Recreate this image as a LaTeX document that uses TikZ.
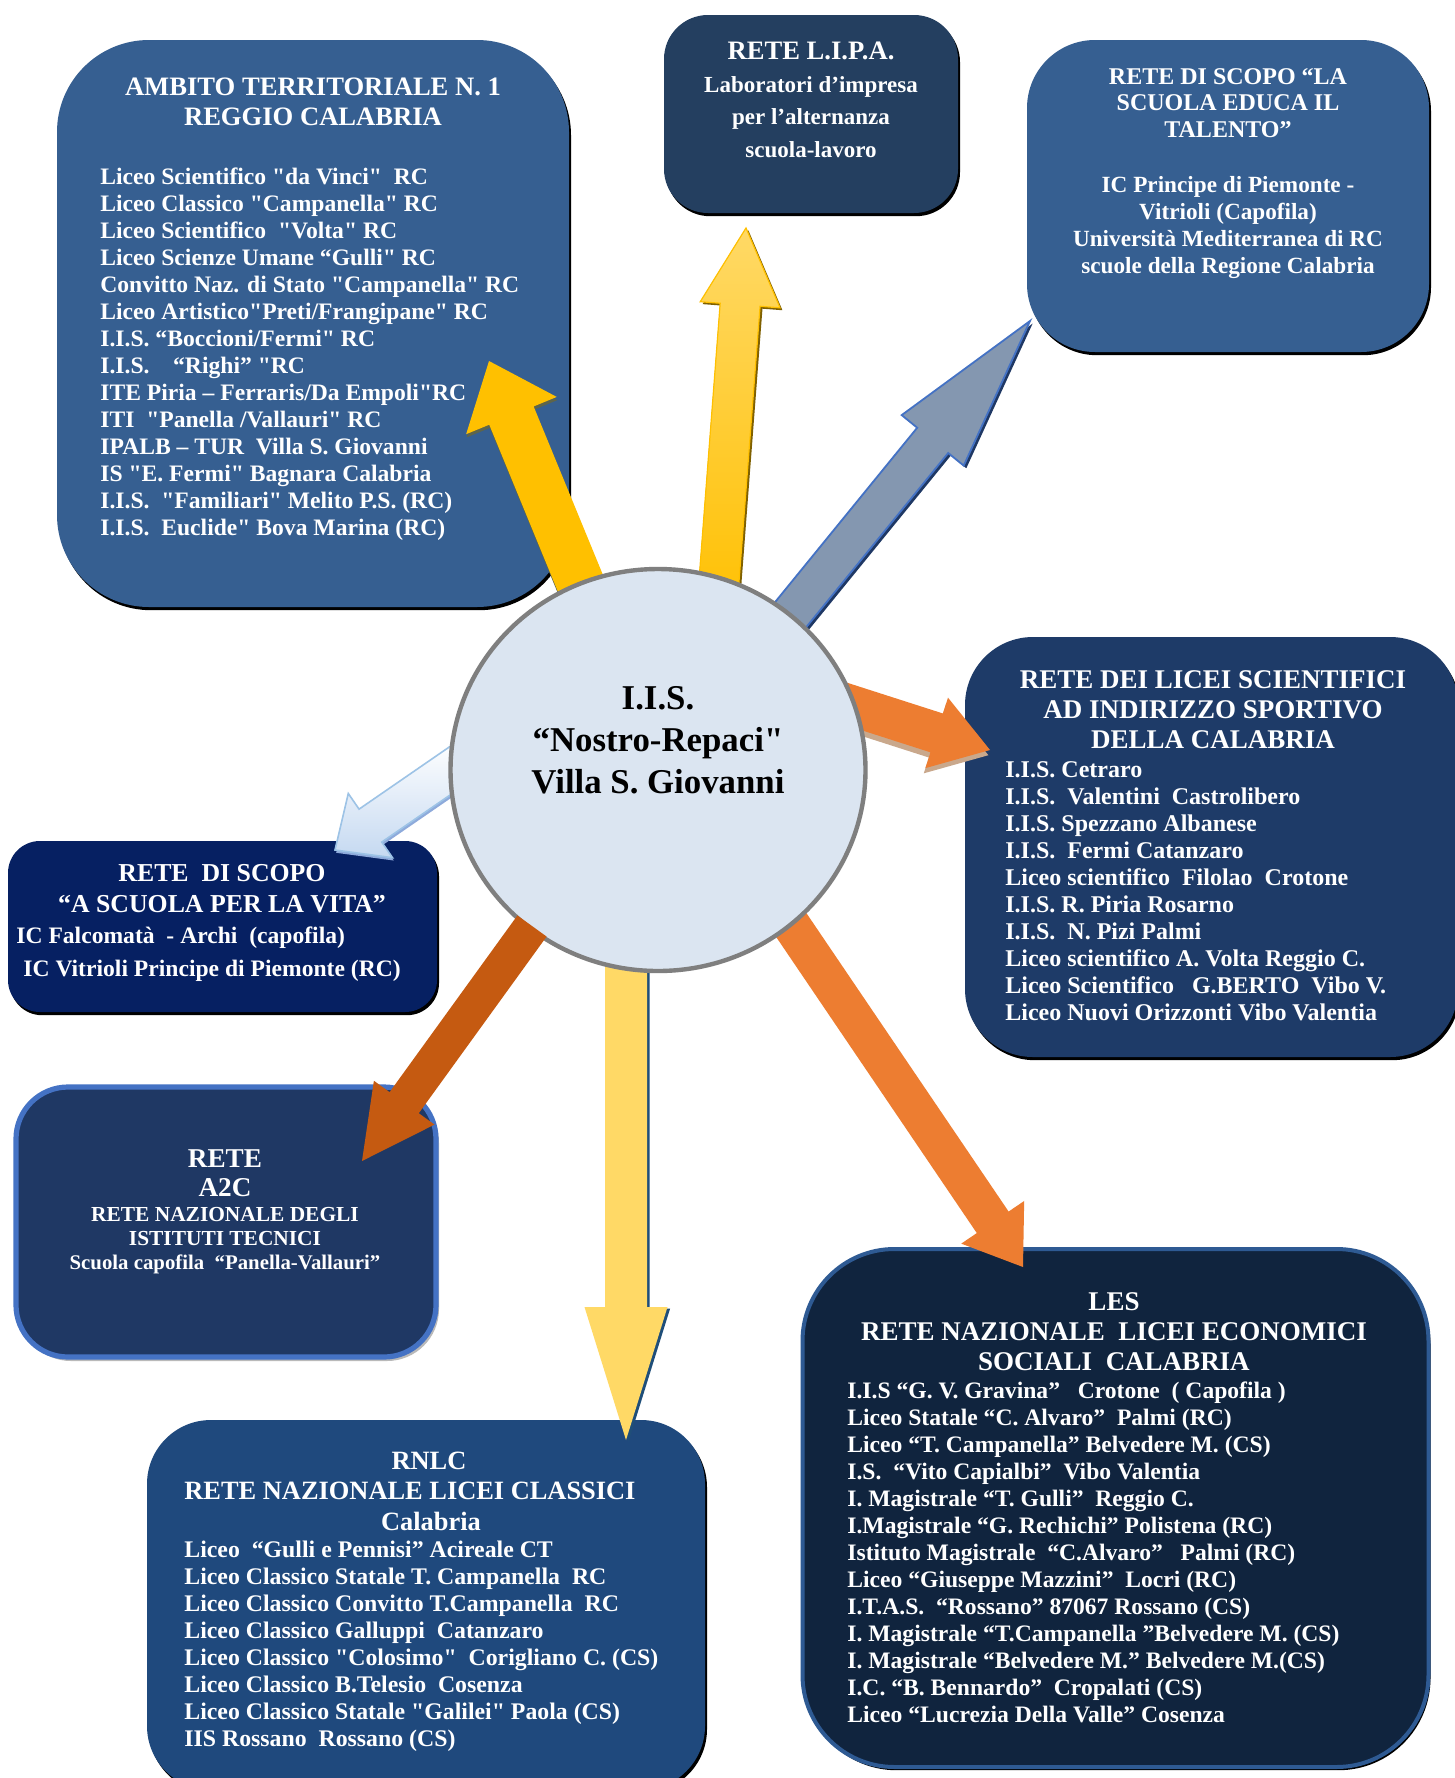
\documentclass[tikz,border=0pt]{standalone}
\usepackage{fontspec}
\setmainfont{Liberation Serif}[Ligatures=TeXOff]
\usetikzlibrary{calc,shapes.geometric,shadows}

\definecolor{cAmb}{HTML}{365F91}
\definecolor{cLipa}{HTML}{243F60}
\definecolor{cLic}{HTML}{1E3B68}
\definecolor{cVita}{HTML}{062062}
\definecolor{cAtc}{HTML}{1F3864}
\definecolor{cAtcB}{HTML}{4472C4}
\definecolor{cRnlc}{HTML}{1F497D}
\definecolor{cLes}{HTML}{10243E}
\definecolor{cLesB}{HTML}{2E5A93}
\definecolor{cHub}{HTML}{DBE5F1}
\definecolor{cHubB}{HTML}{7F7F7F}
\definecolor{cGold}{HTML}{FFC000}
\definecolor{cGoldL}{HTML}{FFD966}
\definecolor{cSlate}{HTML}{8497B0}
\definecolor{cSlateB}{HTML}{4472C4}
\definecolor{cNavyS}{HTML}{1F3864}
\definecolor{cOrange}{HTML}{ED7D31}
\definecolor{cTan}{HTML}{C9A88C}
\definecolor{cSky}{HTML}{C5D9F1}
\definecolor{cSkyB}{HTML}{9DC3E6}
\definecolor{cSkyS}{HTML}{8EAADB}
\definecolor{cBrown}{HTML}{C55A11}
\definecolor{cDeepB}{HTML}{1F4E79}
\definecolor{cOlive}{HTML}{5E654A}
\definecolor{cDkGold}{HTML}{7F6000}

% block arrow: tail, tip, shaft half width, head half width, head length, style
\newcommand\blockarrow[6]{%
  \coordinate (bahead) at ($(#2)!#5!(#1)$);
  \filldraw[#6] ($(#1)!#3!90:(#2)$) -- ($(bahead)!#3!90:(#2)$) -- ($(bahead)!#4!90:(#2)$) -- (#2) -- ($(bahead)!#4!-90:(#2)$) -- ($(bahead)!#3!-90:(#2)$) -- ($(#1)!#3!-90:(#2)$) -- cycle;
}

\begin{document}
\begin{tikzpicture}[x=0.5pt,y=-0.5pt,
  box/.style={rectangle, inner sep=0pt, draw=none,
    drop shadow={shadow xshift=1pt,shadow yshift=-1.6pt,opacity=1,fill=black}},
  ttl/.style={text=white, font=\bfseries\fontsize{13.3}{15}\selectfont, align=center, inner sep=0pt, anchor=north},
  lst/.style={text=white, font=\bfseries\fontsize{11.8}{13.5}\selectfont, align=left, inner sep=0pt, anchor=north west},
]
\useasboundingbox (0,0) rectangle (1455,1778);
\fill[white] (0,0) rectangle (1455,1778);

% ---------------- boxes ----------------
\node[box, fill=cAmb, rounded corners=46pt, minimum width=256pt, minimum height=283.5pt] (ambito) at (313,323.5) {};
\node[box, fill=cLipa, rounded corners=22pt, minimum width=147pt, minimum height=99pt] (lipa) at (811,114) {};
\node[box, fill=cAmb, rounded corners=34pt, minimum width=201pt, minimum height=156pt] (talento) at (1228,196) {};
\node[box, fill=cLic, rounded corners=34pt, minimum width=246.5pt, minimum height=210pt] (licei) at (1211.5,847) {};
\node[box, fill=cVita, rounded corners=16pt, minimum width=214.5pt, minimum height=85.5pt] (vita) at (222.5,926.5) {};
\node[rectangle, inner sep=0pt, fill=cAtc, draw=cAtcB, line width=2.6pt, rounded corners=26pt,
  minimum width=210pt, minimum height=135pt,
  drop shadow={shadow xshift=1.5pt,shadow yshift=-2pt,opacity=1,fill=gray!55}] (atc) at (226,1222) {};
\node[box, fill=cRnlc, rounded corners=32pt, minimum width=279pt, minimum height=185pt] (rnlc) at (426,1605) {};
\node[box, fill=cLes, draw=cLesB, line width=2pt, rounded corners=46pt, minimum width=313pt, minimum height=259pt] (les) at (1115.5,1508) {};

% ---------------- texts ----------------
\node[ttl] (ambitoT) at (313,77) {AMBITO TERRITORIALE N. 1\\REGGIO CALABRIA};
\node[lst] (ambitoL) at (100,167) {Liceo Scientifico "da Vinci"\ \ RC\\
Liceo Classico "Campanella" RC\\
Liceo Scientifico\ \ "Volta" RC\\
Liceo Scienze Umane “Gulli" RC\\
Convitto Naz. di Stato "Campanella" RC\\
Liceo Artistico"Preti/Frangipane" RC\\
I.I.S. “Boccioni/Fermi" RC\\
I.I.S.\ \ \ \ “Righi” "RC\\
ITE Piria – Ferraris/Da Empoli"RC\\
ITI\ \ "Panella /Vallauri" RC\\
IPALB – TUR\ \ Villa S. Giovanni\\
IS "E. Fermi" Bagnara Calabria\\
I.I.S.\ \ "Familiari" Melito P.S. (RC)\\
I.I.S.\ \ Euclide" Bova Marina (RC)};

\node[ttl] (lipaT) at (811,42) {RETE L.I.P.A.};
\node[ttl, font=\bfseries\fontsize{11.5}{16.25}\selectfont] (lipaB) at (811,76) {Laboratori d’impresa\\per l’alternanza\\scuola-lavoro};

\node[ttl, font=\bfseries\fontsize{12}{13.25}\selectfont] (talentoT) at (1228,68) {RETE DI SCOPO “LA\\SCUOLA EDUCA IL\\TALENTO”};
\node[ttl, font=\bfseries\fontsize{11.6}{13.5}\selectfont] (talentoB) at (1228,176) {IC Principe di Piemonte -\\Vitrioli (Capofila)\\Università Mediterranea di RC\\scuole della Regione Calabria};

\node[ttl, font=\bfseries\fontsize{13.5}{15}\selectfont] (liceiT) at (1213,670) {RETE DEI LICEI SCIENTIFICI\\AD INDIRIZZO SPORTIVO\\DELLA CALABRIA};
\node[lst, font=\bfseries\fontsize{12}{13.5}\selectfont] (liceiL) at (1005,761) {I.I.S. Cetraro\\
I.I.S.\ \ Valentini\ \ Castrolibero\\
I.I.S. Spezzano Albanese\\
I.I.S.\ \ Fermi Catanzaro\\
Liceo scientifico\ \ Filolao\ \ Crotone\\
I.I.S. R. Piria Rosarno\\
I.I.S.\ \ N. Pizi Palmi\\
Liceo scientifico A. Volta Reggio C.\\
Liceo Scientifico\ \ \ G.BERTO\ \ Vibo V.\\
Liceo Nuovi Orizzonti Vibo Valentia};

\node[ttl, font=\bfseries\fontsize{12.9}{15.5}\selectfont] (vitaT) at (222,864) {RETE\ \ DI SCOPO\\“A SCUOLA PER LA VITA”};
\node[lst, anchor=west] (vitaL1) at (16,938) {IC Falcomatà\ \ - Archi\ \ (capofila)};
\node[lst, anchor=west] (vitaL2) at (23,971) {IC Vitrioli Principe di Piemonte (RC)};

\node[ttl, font=\bfseries\fontsize{13.6}{14.5}\selectfont] (atcT) at (225,1149) {RETE\\A2C};
\node[ttl, font=\bfseries\fontsize{10.7}{12}\selectfont] (atcB) at (225,1207) {RETE NAZIONALE DEGLI\\ISTITUTI TECNICI\\{\fontsize{10.4}{12}\selectfont Scuola capofila\ \ “Panella-Vallauri”}};

\node[ttl, font=\bfseries\fontsize{13.2}{15}\selectfont] (rnlcT1) at (429,1452) {RNLC};
\node[ttl, font=\bfseries\fontsize{13.2}{15}\selectfont] (rnlcT2) at (410,1482) {RETE NAZIONALE LICEI CLASSICI};
\node[ttl, font=\bfseries\fontsize{13.2}{15}\selectfont] (rnlcT3) at (431,1512) {Calabria};
\node[lst, font=\bfseries\fontsize{11.9}{13.5}\selectfont] (rnlcL) at (184,1541) {Liceo\ \ “Gulli e Pennisi” Acireale CT\\
Liceo Classico Statale T. Campanella\ \ RC\\
Liceo Classico Convitto T.Campanella\ \ RC\\
Liceo Classico Galluppi\ \ Catanzaro\\
Liceo Classico "Colosimo"\ \ Corigliano C. (CS)\\
Liceo Classico B.Telesio\ \ Cosenza\\
Liceo Classico Statale "Galilei" Paola (CS)\\
IIS Rossano\ \ Rossano (CS)};

\node[ttl, font=\bfseries\fontsize{13.5}{15}\selectfont] (lesT) at (1114,1292) {LES\\RETE NAZIONALE\ \ LICEI ECONOMICI\\SOCIALI\ \ CALABRIA};
\node[lst] (lesL) at (847,1381) {I.I.S “G. V. Gravina”\ \ \ Crotone\ \ ( Capofila )\\
Liceo Statale “C. Alvaro”\ \ Palmi (RC)\\
Liceo “T. Campanella” Belvedere M. (CS)\\
I.S.\ \ “Vito Capialbi”\ \ Vibo Valentia\\
I. Magistrale “T. Gulli”\ \ Reggio C.\\
I.Magistrale “G. Rechichi” Polistena (RC)\\
Istituto Magistrale\ \ “C.Alvaro”\ \ \ Palmi (RC)\\
Liceo “Giuseppe Mazzini”\ \ Locri (RC)\\
I.T.A.S.\ \ “Rossano” 87067 Rossano (CS)\\
I. Magistrale “T.Campanella ”Belvedere M. (CS)\\
I. Magistrale “Belvedere M.” Belvedere M.(CS)\\
I.C. “B. Bennardo”\ \ Cropalati (CS)\\
Liceo “Lucrezia Della Valle” Cosenza};

% ---------------- arrow end points ----------------
\coordinate (a1s) at (598,626);  \coordinate (a1e) at (489,361);
\coordinate (a2s) at (716,620);  \coordinate (a2e) at (746,228);
\coordinate (a3s) at (770,640);  \coordinate (a3e) at (1030,321);
\coordinate (a4s) at (828,698);  \coordinate (a4e) at (990,750);
\coordinate (a5s) at (470,757);  \coordinate (a5e) at (335,850);
\coordinate (a6s) at (532,926);  \coordinate (a6e) at (362,1161);
\coordinate (a7s) at (626,940);  \coordinate (a7e) at (626,1440);
\coordinate (a8s) at (775,901);  \coordinate (a8e) at (1023,1267);

% ---------------- arrows under hub ----------------
\blockarrow{a1s}{a1e}{12pt}{24.5pt}{29.5pt}{fill=cGold, draw=none,
  drop shadow={shadow xshift=0.3pt,shadow yshift=-1.6pt,opacity=1,fill=cOlive}}
\blockarrow{a2s}{a2e}{10pt}{20pt}{38.5pt}{top color=cGoldL, bottom color=cGold, draw=cGold, line width=0.6pt,
  drop shadow={shadow xshift=1.2pt,shadow yshift=-1.2pt,opacity=1,fill=cDkGold}}
\blockarrow{a3s}{a3e}{10pt}{20pt}{77pt}{fill=cSlate, draw=cSlateB, line width=0.9pt,
  drop shadow={shadow xshift=1.3pt,shadow yshift=-1.3pt,opacity=1,fill=cNavyS}}
\blockarrow{a4s}{a4e}{10.2pt}{18.5pt}{28pt}{fill=cOrange, draw=none,
  drop shadow={shadow xshift=-0.8pt,shadow yshift=-2.6pt,opacity=1,fill=cTan}}
\blockarrow{a5s}{a5e}{10pt}{19.5pt}{21.5pt}{top color=white, bottom color=cSky, draw=cSkyB, line width=0.8pt,
  drop shadow={shadow xshift=0.6pt,shadow yshift=-1.4pt,opacity=1,fill=cSkyS}}
\blockarrow{a7s}{a7e}{10.5pt}{20.75pt}{66.5pt}{fill=cGoldL, draw=none,
  drop shadow={shadow xshift=1.3pt,shadow yshift=-0.8pt,opacity=1,fill=cDeepB}}
\blockarrow{a8s}{a8e}{9.6pt}{19pt}{27pt}{fill=cOrange, draw=none}

% ---------------- hub ----------------
\node[ellipse, inner sep=0pt, fill=cHub, draw=cHubB, line width=2.2pt,
  minimum width=207.5pt, minimum height=201pt] (hub) at (658,770) {};
\node[align=center, inner sep=0pt, font=\bfseries\fontsize{17.4}{21}\selectfont] (hubT) at (658,740)
  {I.I.S.\\“Nostro-Repaci"\\Villa S. Giovanni};

% ---------------- arrow over hub ----------------
\blockarrow{a6s}{a6e}{9pt}{18.7pt}{36pt}{fill=cBrown, draw=none}
\end{tikzpicture}
\end{document}
